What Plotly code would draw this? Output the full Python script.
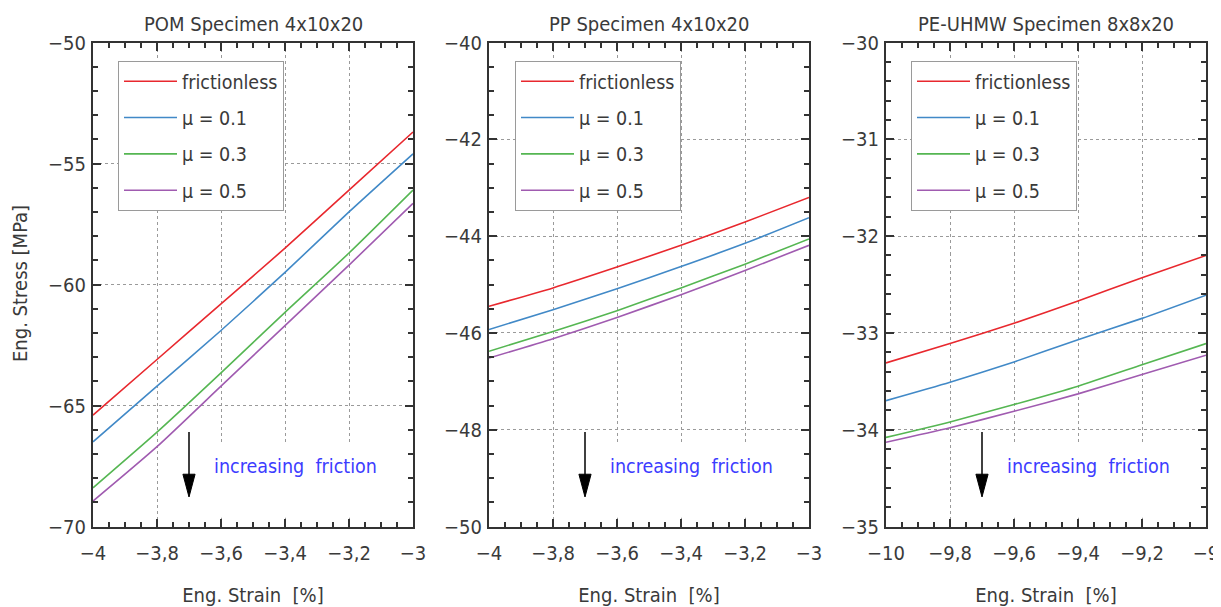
import plotly.graph_objects as go

# ---------------- data ----------------
series_names = ["frictionless", "μ = 0.1", "μ = 0.3", "μ = 0.5"]
series_colors = ["#e8282e", "#4189c7", "#55b652", "#a05bb0"]

pom_strain = [-4.0, -3.8, -3.6, -3.4, -3.2, -3.0]
pom_frictionless = [-65.4, -63.1, -60.8, -58.5, -56.1, -53.7]
pom_mu01 = [-66.5, -64.2, -61.9, -59.5, -57.0, -54.6]
pom_mu03 = [-68.4, -66.1, -63.65, -61.15, -58.7, -56.1]
pom_mu05 = [-68.95, -66.7, -64.2, -61.7, -59.2, -56.65]

pp_strain = [-4.0, -3.8, -3.6, -3.4, -3.2, -3.0]
pp_frictionless = [-45.45, -45.07, -44.64, -44.19, -43.71, -43.20]
pp_mu01 = [-45.93, -45.52, -45.09, -44.63, -44.15, -43.62]
pp_mu03 = [-46.38, -45.97, -45.54, -45.07, -44.58, -44.06]
pp_mu05 = [-46.52, -46.12, -45.68, -45.21, -44.71, -44.19]

pe_strain = [-10.0, -9.8, -9.6, -9.4, -9.2, -9.0]
pe_frictionless = [-33.31, -33.11, -32.90, -32.67, -32.43, -32.20]
pe_mu01 = [-33.70, -33.51, -33.30, -33.07, -32.85, -32.61]
pe_mu03 = [-34.08, -33.92, -33.74, -33.55, -33.33, -33.11]
pe_mu05 = [-34.13, -33.98, -33.81, -33.63, -33.43, -33.23]

panel_titles = ["POM Specimen 4x10x20", "PP Specimen 4x10x20", "PE-UHMW Specimen 8x8x20"]
x_ranges = [[-4, -3], [-4, -3], [-10, -9]]
y_ranges = [[-70, -50], [-50, -40], [-35, -30]]
y_dticks = [5, 2, 1]
y_minor = [1, 0.5, 0.2]
x_label = "Eng. Strain  [%]"
y_label = "Eng. Stress [MPa]"
note_text = "increasing  friction"

panels = [
    (pom_strain, [pom_frictionless, pom_mu01, pom_mu03, pom_mu05]),
    (pp_strain, [pp_frictionless, pp_mu01, pp_mu03, pp_mu05]),
    (pe_strain, [pe_frictionless, pe_mu01, pe_mu03, pe_mu05]),
]

# ---------------- layout constants ----------------
# The page body has an 8px margin, so the figure is made 8px smaller and
# screen positions are converted with that offset.
OFF = 8
W, H = 1221 - OFF, 607 - OFF
FONT = "DejaVu Sans Condensed, Liberation Sans Narrow, Roboto, sans-serif"
FS = 19.5
FT = 20
TXT = "#3a3a3a"
AX = "#333333"
x_px = [(93, 413), (489, 809), (886, 1206)]
y_top, y_bot = 42.5, 526.5
legend_left = [118, 515, 911]
legend_top = 61


def px_x(X):
    return (X - OFF) / W


def px_y(Y):
    return (H - (Y - OFF)) / H


fig = go.Figure()

for i, (xs, ys_list) in enumerate(panels):
    suf = "" if i == 0 else str(i + 1)
    leg = "legend" if i == 0 else f"legend{i + 1}"
    for j, ys in enumerate(ys_list):
        fig.add_trace(go.Scatter(
            x=xs, y=ys, mode="lines", name=series_names[j],
            line=dict(color=series_colors[j], width=1.6, shape="spline", smoothing=0.6),
            xaxis="x" + suf, yaxis="y" + suf, legend=leg,
            legendgroup=f"g{i}_{j}", showlegend=True,
        ))

layout = dict(
    width=W, height=H,
    margin=dict(l=0, r=0, t=0, b=0),
    paper_bgcolor="white", plot_bgcolor="white",
    separators=",.",
    font=dict(family=FONT, size=FS, color=TXT),
    shapes=[], annotations=[],
)

for i in range(3):
    suf = "" if i == 0 else str(i + 1)
    xd = [px_x(x_px[i][0]), px_x(x_px[i][1])]
    yd = [px_y(y_bot), px_y(y_top)]
    common = dict(
        showline=True, linecolor=AX, linewidth=2, mirror="ticks",
        ticks="inside", ticklen=8, tickwidth=1.8, tickcolor=AX,
        showgrid=True, gridcolor="#9a9a9a", griddash="dot", gridwidth=1,
        zeroline=False, tickfont=dict(size=FT, color=TXT, family=FONT),
        automargin=False, ticklabeloverflow="allow",
    )
    layout["xaxis" + suf] = dict(
        common, domain=xd, range=x_ranges[i], dtick=0.2, tick0=0,
        anchor="y" + suf, ticklabelstandoff=7,
        minor=dict(ticks="inside", dtick=0.05, ticklen=5, tickwidth=1.5, tickcolor=AX, showgrid=False),
        title=dict(text=x_label, standoff=28, font=dict(size=FT, color=TXT, family=FONT)),
    )
    layout["yaxis" + suf] = dict(
        common, domain=yd, range=y_ranges[i], dtick=y_dticks[i], tick0=0,
        anchor="x" + suf,
        minor=dict(ticks="inside", dtick=y_minor[i], ticklen=5, tickwidth=1.5, tickcolor=AX, showgrid=False),
        ticklabelstandoff=1,
    )

    leg = "legend" if i == 0 else f"legend{i + 1}"
    layout[leg] = dict(
        x=px_x(legend_left[i]), y=px_y(legend_top), xanchor="left", yanchor="top",
        bgcolor="white", bordercolor="#9a9a9a", borderwidth=1,
        font=dict(size=FS, color=TXT, family=FONT),
        itemwidth=53, tracegroupgap=8,
    )

    xr, yr = "x" + suf + " domain", "y" + suf + " domain"
    # white background area behind the note (hides grid, leaves axis ticks visible)
    layout["shapes"].append(dict(type="rect", xref=xr, yref=yr, x0=0.35, x1=0.972, y0=0.018, y1=0.1725,
                                 fillcolor="white", line=dict(width=0), layer="above"))
    # arrow shaft
    layout["shapes"].append(dict(type="line", xref=xr, yref=yr, x0=0.3, x1=0.3, y0=0.195, y1=0.1,
                                 line=dict(color="black", width=1.5), layer="above"))
    # arrow head
    layout["shapes"].append(dict(type="path", xref=xr, yref=yr,
                                 path="M 0.281 0.108 L 0.319 0.108 L 0.3 0.061 Z",
                                 fillcolor="black", line=dict(color="black", width=1), layer="above"))
    layout["annotations"].append(dict(
        xref=xr, yref=yr, x=0.633, y=0.125, text=note_text, showarrow=False,
        font=dict(size=FS, color="#3c3cff", family=FONT), xanchor="center", yanchor="middle",
    ))
    layout["annotations"].append(dict(
        xref="paper", yref="paper", x=px_x((x_px[i][0] + x_px[i][1]) / 2), y=px_y(24),
        text=panel_titles[i], showarrow=False, xanchor="center", yanchor="middle",
        font=dict(size=FT, color=TXT, family=FONT),
    ))

# y-axis title of the first panel
layout["annotations"].append(dict(
    xref="paper", yref="paper", x=px_x(20), y=px_y(284), text=y_label, textangle=-90,
    showarrow=False, xanchor="center", yanchor="middle",
    font=dict(size=FT, color=TXT, family=FONT),
))

fig.update_layout(layout)
fig.write_html("out.html")
